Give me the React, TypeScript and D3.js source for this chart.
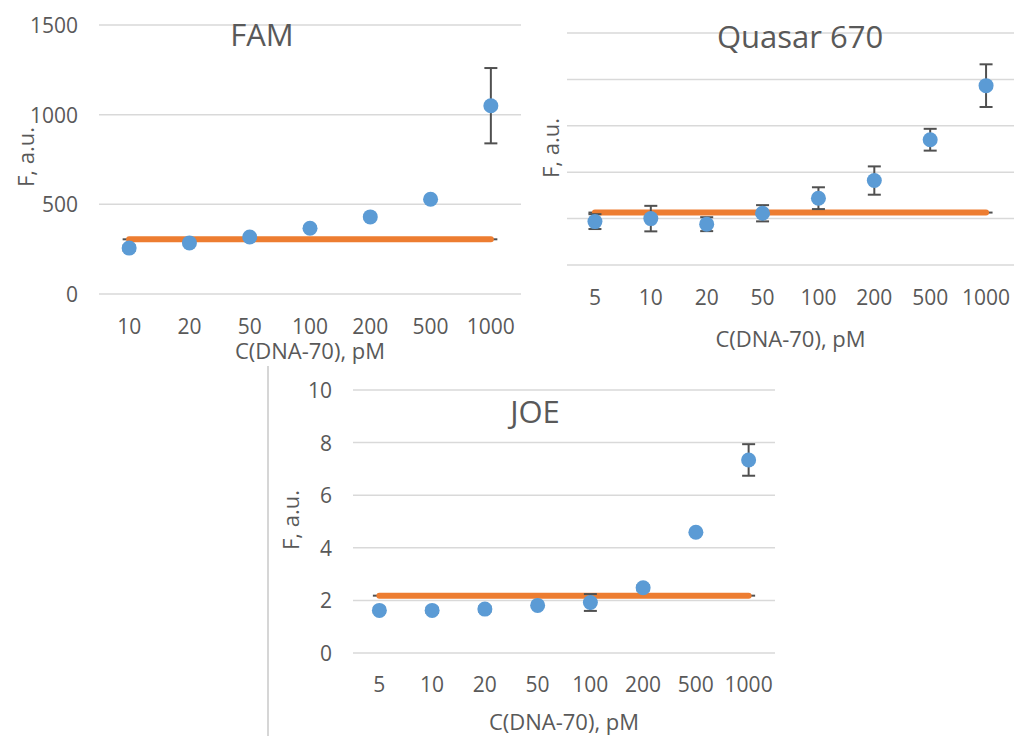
import React, { useRef, useEffect } from 'react';
import * as d3 from 'd3';

// FAM panel
const famCategories = ['10', '20', '50', '100', '200', '500', '1000'];
const famValues = [256, 285, 318, 367, 430, 528, 1050];
const famErrors = [15, 10, 10, 10, 10, 10, 210];
const famThreshold = 305;
const famTicks = [0, 500, 1000, 1500];

// Quasar 670 panel (tick labels are cut off in the original)
const quasarCategories = ['5', '10', '20', '50', '100', '200', '500', '1000'];
const quasarValues = [187, 200, 176, 223, 288, 364, 540, 773];
const quasarErrors = [32, 55, 30, 35, 47, 61, 47, 92];
const quasarThreshold = 226;
const quasarTicks = [0, 200, 400, 600, 800, 1000];

// JOE panel
const joeCategories = ['5', '10', '20', '50', '100', '200', '500', '1000'];
const joeValues = [1.62, 1.62, 1.67, 1.81, 1.92, 2.48, 4.59, 7.34];
const joeErrors = [0.1, 0.1, 0.1, 0.05, 0.32, 0.1, 0.05, 0.6];
const joeThreshold = 2.18;
const joeTicks = [0, 2, 4, 6, 8, 10];

const TEXT = '#595959';
const GRID = '#d9d9d9';
const BLUE = '#5b9bd5';
const ORANGE = '#ed7d31';
const ERR = '#505050';
const FONT = "'Open Sans', 'Segoe UI', sans-serif";

interface PanelSpec {
  title: string;
  categories: string[];
  values: number[];
  errors: number[];
  threshold: number;
  ticks: number[];
  left: number;
  right: number;
  top: number;
  bottom: number;
  showTickLabels: boolean;
  titlePos: [number, number];
  yLabelPos: [number, number];
  xTickY: number;
  xTitleY: number;
}

const drawPanel = (root: d3.Selection<SVGSVGElement, unknown, null, undefined>, p: PanelSpec) => {
  const g = root.append('g');

  const x = d3.scaleBand().domain(p.categories).range([p.left, p.right]);
  const y = d3
    .scaleLinear()
    .domain([p.ticks[0], p.ticks[p.ticks.length - 1]])
    .range([p.bottom, p.top]);
  const cx = (c: string) => (x(c) as number) + x.bandwidth() / 2;

  // Grid lines
  g.selectAll('.grid')
    .data(p.ticks)
    .enter()
    .append('line')
    .attr('x1', p.left)
    .attr('x2', p.right)
    .attr('y1', (d) => y(d))
    .attr('y2', (d) => y(d))
    .attr('stroke', GRID)
    .attr('stroke-width', 1.5);

  if (p.showTickLabels) {
    g.selectAll('.ytick')
      .data(p.ticks)
      .enter()
      .append('text')
      .attr('x', p.left - 21)
      .attr('y', (d) => y(d))
      .attr('text-anchor', 'end')
      .attr('dominant-baseline', 'central')
      .style('font-size', '21px')
      .style('fill', TEXT)
      .text((d) => String(d));
  }

  // X tick labels
  g.selectAll('.xtick')
    .data(p.categories)
    .enter()
    .append('text')
    .attr('x', (d) => cx(d))
    .attr('y', p.xTickY)
    .attr('text-anchor', 'middle')
    .attr('dominant-baseline', 'central')
    .style('font-size', '21px')
    .style('fill', TEXT)
    .text((d) => d);

  // Threshold end caps, then the threshold line
  const first = p.categories[0];
  const last = p.categories[p.categories.length - 1];
  g.selectAll('.tcap')
    .data([first, last])
    .enter()
    .append('line')
    .attr('x1', (d) => cx(d) - 6.5)
    .attr('x2', (d) => cx(d) + 6.5)
    .attr('y1', y(p.threshold))
    .attr('y2', y(p.threshold))
    .attr('stroke', ERR)
    .attr('stroke-width', 2);

  g.append('line')
    .attr('x1', cx(first))
    .attr('x2', cx(last))
    .attr('y1', y(p.threshold))
    .attr('y2', y(p.threshold))
    .attr('stroke', ORANGE)
    .attr('stroke-width', 6)
    .attr('stroke-linecap', 'round');

  // Error bars
  const bars = g
    .selectAll('.err')
    .data(p.values)
    .enter()
    .append('g')
    .attr('stroke', ERR)
    .attr('stroke-width', 2);
  bars
    .append('line')
    .attr('x1', (_, i) => cx(p.categories[i]))
    .attr('x2', (_, i) => cx(p.categories[i]))
    .attr('y1', (d, i) => y(d - p.errors[i]))
    .attr('y2', (d, i) => y(d + p.errors[i]));
  [1, -1].forEach((s) => {
    bars
      .append('line')
      .attr('x1', (_, i) => cx(p.categories[i]) - 6.5)
      .attr('x2', (_, i) => cx(p.categories[i]) + 6.5)
      .attr('y1', (d, i) => y(d + s * p.errors[i]))
      .attr('y2', (d, i) => y(d + s * p.errors[i]));
  });

  // Points
  g.selectAll('.pt')
    .data(p.values)
    .enter()
    .append('circle')
    .attr('cx', (_, i) => cx(p.categories[i]))
    .attr('cy', (d) => y(d))
    .attr('r', 7.5)
    .attr('fill', BLUE);

  // Titles
  g.append('text')
    .attr('x', p.titlePos[0])
    .attr('y', p.titlePos[1])
    .attr('text-anchor', 'middle')
    .attr('dominant-baseline', 'central')
    .style('font-size', '31px')
    .style('fill', TEXT)
    .text(p.title);

  g.append('text')
    .attr('x', (p.left + p.right) / 2)
    .attr('y', p.xTitleY)
    .attr('text-anchor', 'middle')
    .attr('dominant-baseline', 'central')
    .style('font-size', '22px')
    .style('fill', TEXT)
    .text('C(DNA-70), pM');

  g.append('text')
    .attr('transform', `translate(${p.yLabelPos[0]},${p.yLabelPos[1]}) rotate(-90)`)
    .attr('text-anchor', 'middle')
    .attr('dominant-baseline', 'central')
    .style('font-size', '22px')
    .style('fill', TEXT)
    .text('F, a.u.');
};

const App: React.FC = () => {
  const svgRef = useRef<SVGSVGElement>(null);

  useEffect(() => {
    if (!svgRef.current) return;
    const svg = d3.select(svgRef.current);
    svg.selectAll('*').remove();
    svg.style('font-family', FONT);

    svg.append('rect').attr('width', 1015).attr('height', 736).attr('fill', '#fff');

    // Border of the lower chart
    svg
      .append('line')
      .attr('x1', 268)
      .attr('x2', 268)
      .attr('y1', 366)
      .attr('y2', 736)
      .attr('stroke', '#c8c8c8')
      .attr('stroke-width', 1.5);

    drawPanel(svg, {
      title: 'FAM',
      categories: famCategories,
      values: famValues,
      errors: famErrors,
      threshold: famThreshold,
      ticks: famTicks,
      left: 99,
      right: 521,
      top: 25,
      bottom: 294,
      showTickLabels: true,
      titlePos: [262, 34],
      yLabelPos: [25, 157],
      xTickY: 326,
      xTitleY: 350,
    });

    drawPanel(svg, {
      title: 'Quasar 670',
      categories: quasarCategories,
      values: quasarValues,
      errors: quasarErrors,
      threshold: quasarThreshold,
      ticks: quasarTicks,
      left: 567,
      right: 1014,
      top: 33,
      bottom: 265,
      showTickLabels: false,
      titlePos: [800, 36],
      yLabelPos: [550, 148],
      xTickY: 297,
      xTitleY: 338,
    });

    drawPanel(svg, {
      title: 'JOE',
      categories: joeCategories,
      values: joeValues,
      errors: joeErrors,
      threshold: joeThreshold,
      ticks: joeTicks,
      left: 353,
      right: 775,
      top: 390,
      bottom: 653,
      showTickLabels: true,
      titlePos: [535, 411],
      yLabelPos: [290, 520],
      xTickY: 684,
      xTitleY: 721,
    });
  }, []);

  return (
    <svg
      ref={svgRef}
      width={1015}
      height={736}
      style={{ position: 'absolute', left: 0, top: 0 }}
    ></svg>
  );
};

export default App;
